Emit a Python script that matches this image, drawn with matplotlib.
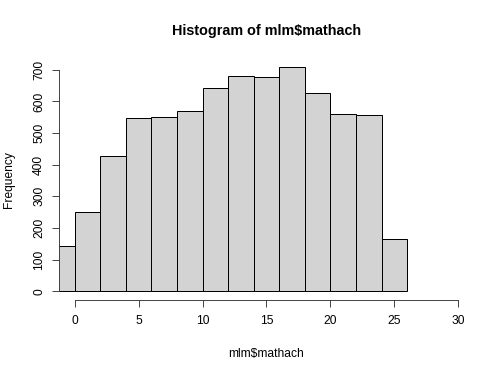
import numpy as np
import matplotlib
matplotlib.use("Agg")
import matplotlib.pyplot as plt

# Histogram counts (bins of width 2)
bin_edges = [-2, 0, 2, 4, 6, 8, 10, 12, 14, 16, 18, 20, 22, 24, 26]
counts = [143, 252, 428, 547, 552, 569, 642, 680, 676, 709, 627, 561, 558, 165]
x_ticks = [0, 5, 10, 15, 20, 25, 30]
y_ticks = [0, 100, 200, 300, 400, 500, 600, 700]

plt.rcParams["font.family"] = ["Liberation Sans", "DejaVu Sans"]

fig = plt.figure(figsize=(504 / 72, 374 / 72), dpi=72)
ax = fig.add_axes([59.3 / 504, 1 - 300.3 / 374, (473.6 - 59.3) / 504, (300.3 - 57.9) / 374])

centers = (np.array(bin_edges[:-1]) + np.array(bin_edges[1:])) / 2
ax.hist(centers, bins=bin_edges, weights=counts,
        color="#D3D3D3", edgecolor="black", linewidth=1)

# R-style limits: 4% padding
xlim = (0, 30)
ymax = max(counts)
ax.set_xlim(xlim[0] - 0.04 * 30, xlim[1] + 0.04 * 30)
ax.set_ylim(-0.04 * ymax, ymax * 1.04)

for s in ["top", "right"]:
    ax.spines[s].set_visible(False)
ax.spines["bottom"].set_bounds(0, 30)
ax.spines["left"].set_bounds(0, 700)
for s in ["bottom", "left"]:
    ax.spines[s].set_linewidth(0.9)
    ax.spines[s].set_color("#333333")

ax.set_xticks(x_ticks)
ax.set_yticks(y_ticks)
ax.set_yticklabels([str(v) for v in y_ticks], rotation=90, va="center")
ax.tick_params(axis="both", direction="out", length=7.2, width=0.9,
               color="#333333", labelsize=12)
ax.tick_params(axis="x", pad=8)
ax.tick_params(axis="y", pad=7)

ax.set_title("Histogram of mlm$mathach", fontsize=14.4, fontweight="bold", pad=23)
ax.set_xlabel("mlm$mathach", fontsize=12, labelpad=20)
ax.set_ylabel("Frequency", fontsize=12, labelpad=18)

fig.savefig("out.png", dpi=72)
